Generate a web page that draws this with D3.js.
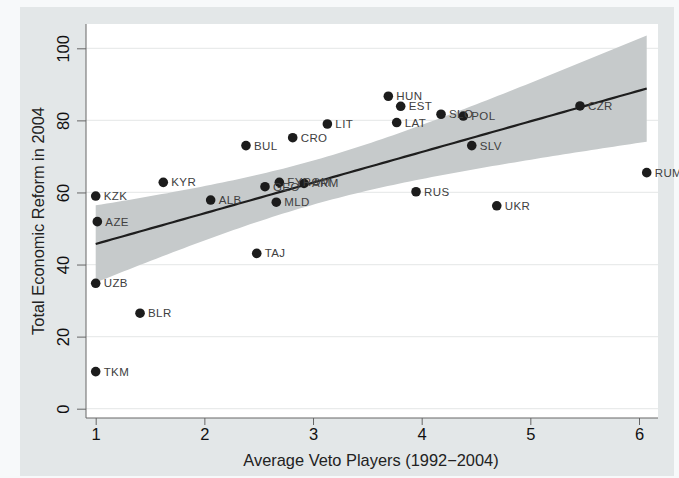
<!DOCTYPE html>
<html><head><meta charset="utf-8">
<script src="https://cdn.jsdelivr.net/npm/d3@7"></script>
<style>body{margin:0;background:#f7f9fa;} svg{display:block;font-family:"Liberation Sans",Arial,sans-serif;}</style>
</head><body><svg id="c" width="679" height="478"></svg>
<script>
const countries = ["KZK","AZE","KYR","ALB","BUL","CRO","LIT","GEO","FYROM","ARM","MLD","HUN","EST","LAT","SLO","POL","SLV","CZR","RUM","RUS","UKR","TAJ","UZB","BLR","TKM"];
const vetoPlayers = [1.0,1.015,1.622,2.058,2.383,2.813,3.132,2.558,2.69,2.917,2.662,3.693,3.807,3.770,4.178,4.383,4.461,5.457,6.071,3.948,4.691,2.482,1.0,1.408,1.0];
const reform = [59.0,51.9,62.8,57.9,73.0,75.2,79.0,61.6,62.8,62.5,57.3,86.7,83.9,79.4,81.7,81.2,73.0,84.0,65.5,60.2,56.3,43.1,34.8,26.5,10.3];
const xTicks = [1,2,3,4,5,6];
const yTicks = [0,20,40,60,80,100];
const xTitle = "Average Veto Players (1992\u22122004)";
const yTitle = "Total Economic Reform in 2004";
const tCrit = 2.0687; // t(0.975, df=23)

const svg = d3.select("#c");
const P = {l:86, r:658, t:24, b:418};
const x = d3.scaleLinear().domain([1,6]).range([95.7,639]);
const y = d3.scaleLinear().domain([0,100]).range([408.7,48.3]);

svg.append("rect").attr("x",0).attr("y",0).attr("width",679).attr("height",478).attr("fill","#f7f9fa");
svg.append("rect").attr("x",20).attr("y",7).attr("width",654).attr("height",469).attr("fill","#e3e7e8");
svg.append("rect").attr("x",P.l).attr("y",P.t).attr("width",P.r-P.l).attr("height",P.b-P.t).attr("fill","#ffffff");

// gridlines
svg.append("g").selectAll("line").data(yTicks).join("line")
  .attr("x1",P.l).attr("x2",P.r).attr("y1",d=>y(d)).attr("y2",d=>y(d))
  .attr("stroke","#e9ebeb").attr("stroke-width",1.2);

// regression + CI
const data = countries.map((c,i)=>({c, x:vetoPlayers[i], y:reform[i]}));
const n = data.length;
const mx = d3.mean(data,d=>d.x), my = d3.mean(data,d=>d.y);
const sxx = d3.sum(data,d=>(d.x-mx)**2), sxy = d3.sum(data,d=>(d.x-mx)*(d.y-my));
const b = sxy/sxx, a = my - b*mx;
const s = Math.sqrt(d3.sum(data,d=>(d.y-(a+b*d.x))**2)/(n-2));
const [x0,x1] = d3.extent(data,d=>d.x);
const grid = d3.range(0,101).map(i=>x0+(x1-x0)*i/100);
const band = grid.map(v=>{const f=a+b*v; const h=tCrit*s*Math.sqrt(1/n+(v-mx)**2/sxx); return {v, lo:f-h, hi:f+h, f};});
svg.append("path").datum(band)
  .attr("d", d3.area().x(d=>x(d.v)).y0(d=>y(d.lo)).y1(d=>y(d.hi)))
  .attr("fill","#c6cacb");
svg.append("path").datum(band)
  .attr("d", d3.line().x(d=>x(d.v)).y(d=>y(d.f)))
  .attr("fill","none").attr("stroke","#1e1e1e").attr("stroke-width",2.2);

// axes
const xAxis = d3.axisBottom(x).tickValues(xTicks).tickSize(7).tickPadding(3).tickFormat(d3.format("d"));
const gx = svg.append("g").attr("transform",`translate(0,${P.b})`).call(xAxis);
gx.select(".domain").attr("d",`M${P.l},0H${P.r}`).attr("stroke","#666");
gx.selectAll(".tick line").attr("stroke","#666");
gx.selectAll("text").attr("font-size",16.5).attr("fill","#111").attr("font-family","Liberation Sans, Arial, sans-serif");

const yAxis = d3.axisLeft(y).tickValues(yTicks).tickSize(9).tickFormat(d3.format("d"));
const gy = svg.append("g").attr("transform",`translate(${P.l},0)`).call(yAxis);
gy.select(".domain").attr("d",`M0,${P.t}V${P.b}`).attr("stroke","#666");
gy.selectAll(".tick line").attr("stroke","#666");
gy.selectAll("text").attr("font-size",16.5).attr("fill","#111").attr("font-family","Liberation Sans, Arial, sans-serif")
  .attr("x",null).attr("dy",null).attr("text-anchor","middle").attr("dominant-baseline","central")
  .attr("transform","translate(-23,0) rotate(-90)");

// titles
svg.append("text").attr("x",371).attr("y",466).attr("text-anchor","middle")
  .attr("font-size",16.4).attr("fill","#222").text(xTitle);
svg.append("text").attr("transform",`translate(44,${(P.t+P.b)/2}) rotate(-90)`).attr("text-anchor","middle")
  .attr("font-size",16.4).attr("fill","#222").text(yTitle);

// points
const pg = svg.append("g");
pg.selectAll("circle").data(data).join("circle")
  .attr("cx",d=>x(d.x)).attr("cy",d=>y(d.y)).attr("r",4.8).attr("fill","#1c1c1c");
pg.selectAll("text").data(data).join("text")
  .attr("x",d=>x(d.x)+8).attr("y",d=>y(d.y)).attr("dominant-baseline","central")
  .attr("font-size",11.5).attr("letter-spacing",0.4).attr("fill","#404040").text(d=>d.c);
</script></body></html>
